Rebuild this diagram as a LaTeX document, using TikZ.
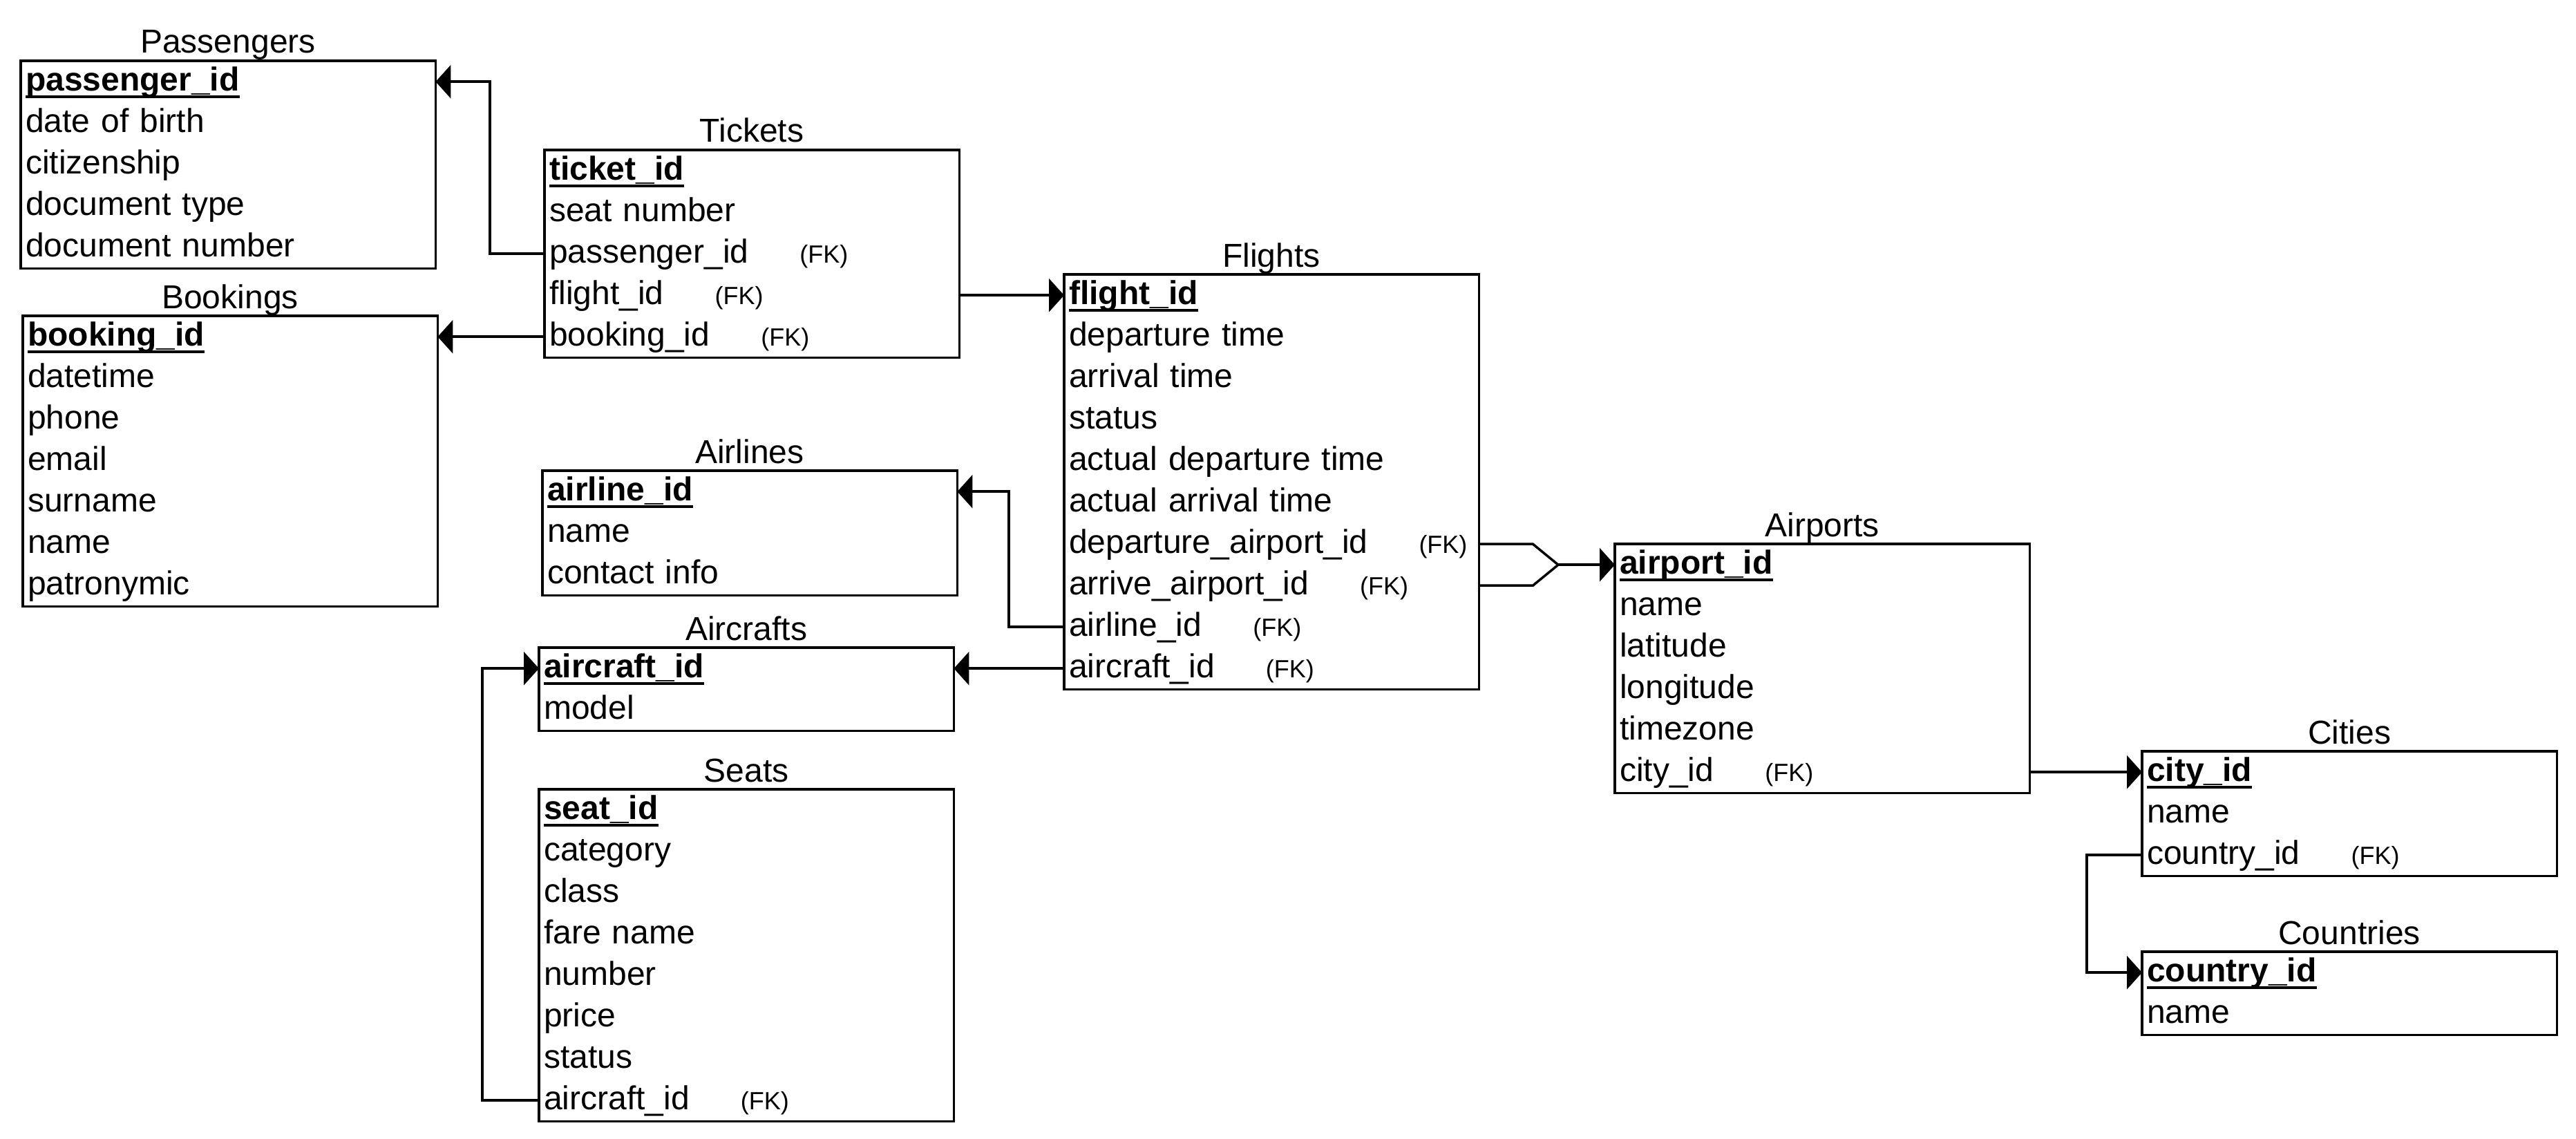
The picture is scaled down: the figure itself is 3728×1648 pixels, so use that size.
\documentclass[tikz,border=0pt]{standalone}
\usepackage{fontspec}
\setmainfont{Liberation Sans}
\usetikzlibrary{arrows.meta}

% clave primaria: negrita subrayada
\newcommand{\pk}[1]{\setbox0\hbox{\bfseries #1}\rlap{\vrule height -7pt depth 11pt width \wd0}\box0}
% clave foranea
\newcommand{\fk}{\hspace{74pt}{\fontsize{36pt}{40pt}\selectfont(FK)}}

\tikzset{
  marco/.style={draw, line width=3.5pt},
  fila/.style={anchor=north west, inner xsep=7pt, inner ysep=0pt, text width=586pt,
    minimum height=60pt, text height=37pt, text depth=11pt, align=left,
    font=\fontsize{48pt}{58pt}\selectfont},
  titulo/.style={anchor=base, inner sep=0pt, font=\fontsize{48pt}{58pt}\selectfont},
  linea/.style={line width=3.5pt},
  rel/.style={line width=3.5pt, -{Triangle[length=22pt,width=48pt]}}
}

% tabla: nombre, x, y, titulo, filas, campos
\newcommand{\tabla}[6]{%
  \node[titulo] (#1t) at (#2+300,#3-11) {#4};
  \foreach \campo [count=\i] in {#6} {
    \node[fila] (#1\i) at (#2,#3+60*\i-60) {\campo};
  }
  \draw[marco] (#11.north west) rectangle (#1#5.south east);
}

\begin{document}
\begin{tikzpicture}[x=1pt,y=-1pt]
    \useasboundingbox (0,0) rectangle (3728,1648);
    % Passengers
    \tabla{ps}{30}{88}{Passengers}{5}{\pk{passenger\_id}, date of birth, citizenship, document type, document number}
    % Bookings
    \tabla{bk}{33}{457}{Bookings}{7}{\pk{booking\_id}, datetime, phone, email, surname, name, patronymic}
    % Tickets
    \tabla{tk}{788}{217}{Tickets}{5}{\pk{ticket\_id}, seat number, passenger\_id\fk, flight\_id\fk, booking\_id\fk}
    % Airlines
    \tabla{al}{785}{681}{Airlines}{3}{\pk{airline\_id}, name, contact info}
    % Aircrafts
    \tabla{ac}{780}{937}{Aircrafts}{2}{\pk{aircraft\_id}, model}
    % Seats
    \tabla{st}{780}{1142}{Seats}{8}{\pk{seat\_id}, category, class, fare name, number, price, status, aircraft\_id\fk}
    % Flights
    \tabla{fl}{1540}{397}{Flights}{10}{\pk{flight\_id}, departure time, arrival time, status, actual departure time, actual arrival time, departure\_airport\_id\fk, arrive\_airport\_id\fk, airline\_id\fk, aircraft\_id\fk}
    % Airports
    \tabla{ap}{2337}{787}{Airports}{6}{\pk{airport\_id}, name, latitude, longitude, timezone, city\_id\fk}
    % Cities
    \tabla{ct}{3100}{1087}{Cities}{3}{\pk{city\_id}, name, country\_id\fk}
    % Countries
    \tabla{cn}{3100}{1377}{Countries}{2}{\pk{country\_id}, name}

    % Tickets -> Passengers
    \draw[rel] (tk3.west) -- ++(-79,0) |- (ps1.east);
    % Tickets -> Bookings
    \draw[rel] (tk5.west) -- (bk1.east);
    % Tickets -> Flights
    \draw[rel] (tk4.east) -- (fl1.west);
    % Flights -> Airlines
    \draw[rel] (fl9.west) -- ++(-80,0) |- (al1.east);
    % Flights -> Aircrafts
    \draw[rel] (fl10.west) -- (ac1.east);
    % Seats -> Aircrafts
    \draw[rel] (st8.west) -- ++(-82,0) |- (ac1.west);
    % Flights -> Airports (dos claves unidas)
    \coordinate (union) at ([xshift=-82pt]ap1.west);
    \draw[linea] (fl7.east) -- ++(78,0) -- (union);
    \draw[linea] (fl8.east) -- ++(78,0) -- (union);
    \draw[rel] (union) -- (ap1.west);
    % Airports -> Cities
    \draw[rel] (ap6.east) -- (ct1.west);
    % Cities -> Countries
    \draw[rel] (ct3.west) -- ++(-80,0) |- (cn1.west);
\end{tikzpicture}
\end{document}
